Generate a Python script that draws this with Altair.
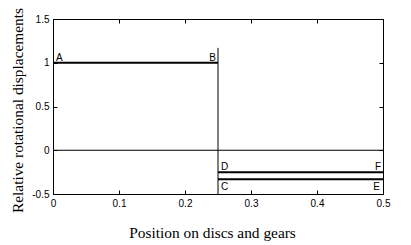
import altair as alt
import pandas as pd

# ---- data ----
seg_start = [0.0, 0.25, 0.25]
seg_end = [0.25, 0.5, 0.5]
seg_level = [1.0, -0.25, -0.33]

zero_start = [0.0]
zero_end = [0.5]
zero_level = [0.0]

step_x = [0.25]
step_low = [-0.5]
step_high = [1.17]

label_text = ["A", "B", "D", "F", "C", "E"]
label_x = [0.0, 0.25, 0.25, 0.5, 0.25, 0.5]
label_y = [1.0, 1.0, -0.25, -0.25, -0.33, -0.33]
label_side = ["left", "right", "left", "right", "left", "right"]
label_pos = ["above", "above", "above", "above", "below", "below"]

x_ticks = [0, 0.1, 0.2, 0.3, 0.4, 0.5]
y_ticks = [-0.5, 0, 0.5, 1, 1.5]
x_domain = [0, 0.5]
y_domain = [-0.5, 1.5]

x_title = "Position on discs and gears"
y_title = "Relative rotational displacements"

# ---- tables ----
seg_df = pd.DataFrame({"x0": seg_start, "x1": seg_end, "y": seg_level})
zero_df = pd.DataFrame({"x0": zero_start, "x1": zero_end, "y": zero_level})
step_df = pd.DataFrame({"x": step_x, "y0": step_low, "y1": step_high})
lab_df = pd.DataFrame({"t": label_text, "x": label_x, "y": label_y,
                       "side": label_side, "pos": label_pos})

W, H = 330, 175
xs = alt.Scale(domain=x_domain, nice=False, zero=False)
ys = alt.Scale(domain=y_domain, nice=False, zero=False)

def label_axis(orient, values, title, title_x, title_y):
    return alt.Axis(orient=orient, values=values, labelExpr="toString(datum.value)",
                    ticks=False, tickSize=0, domain=False, grid=False,
                    labelFont="Liberation Sans", labelFontSize=10, labelColor="black",
                    labelPadding=4, labelFlush=False,
                    title=title, titleFont="Liberation Serif", titleFontSize=15.4,
                    titleFontWeight="normal", titleColor="black",
                    titleX=title_x, titleY=title_y, titleAlign="center",
                    titleBaseline="alphabetic")

def tick_axis(orient, values, offset):
    return alt.Axis(orient=orient, values=values, offset=offset, labels=False,
                    domain=False, grid=False, ticks=True, tickSize=4,
                    tickColor="black", tickWidth=1, title=None)

segs = alt.Chart(seg_df).mark_rule(color="black", strokeWidth=2).encode(
    x=alt.X("x0:Q", scale=xs, axis=label_axis("bottom", x_ticks, x_title, 159, 43)),
    x2="x1:Q",
    y=alt.Y("y:Q", scale=ys, axis=label_axis("left", y_ticks, y_title, -31, 91)),
)

zero = alt.Chart(zero_df).mark_rule(color="black", strokeWidth=1).encode(
    x=alt.X("x0:Q", scale=xs, axis=tick_axis("top", x_ticks, -H)),
    x2="x1:Q",
    y=alt.Y("y:Q", scale=ys, axis=tick_axis("right", y_ticks, -W)),
)

vline = alt.Chart(step_df).mark_rule(color="black", strokeWidth=1).encode(
    x=alt.X("x:Q", scale=xs, axis=tick_axis("bottom", x_ticks, -H)),
    y=alt.Y("y0:Q", scale=ys, axis=tick_axis("left", y_ticks, -W)),
    y2="y1:Q",
)

def text_layer(side, pos, dx, dy):
    return alt.Chart(lab_df).transform_filter(
        (alt.datum.side == side) & (alt.datum.pos == pos)
    ).mark_text(align=side, baseline="alphabetic", dx=dx, dy=dy,
                font="Liberation Sans", fontSize=10, color="black").encode(
        x=alt.X("x:Q", scale=xs, axis=None),
        y=alt.Y("y:Q", scale=ys, axis=None),
        text="t:N",
    )

texts = [
    text_layer("left", "above", 3, -2),
    text_layer("right", "above", -2, -2),
    text_layer("left", "below", 3, 11),
    text_layer("right", "below", -3, 11),
]

chart = alt.layer(segs, zero, vline, *texts).resolve_axis(
    x="independent", y="independent"
).properties(
    width=W, height=H,
    padding={"left": 53, "top": 19, "right": 28, "bottom": 51},
    autosize=alt.AutoSizeParams(type="none"),
    background="white",
).configure_view(stroke="black", strokeWidth=1)

chart.save("out.html", embed_options={"renderer": "svg", "actions": False})
